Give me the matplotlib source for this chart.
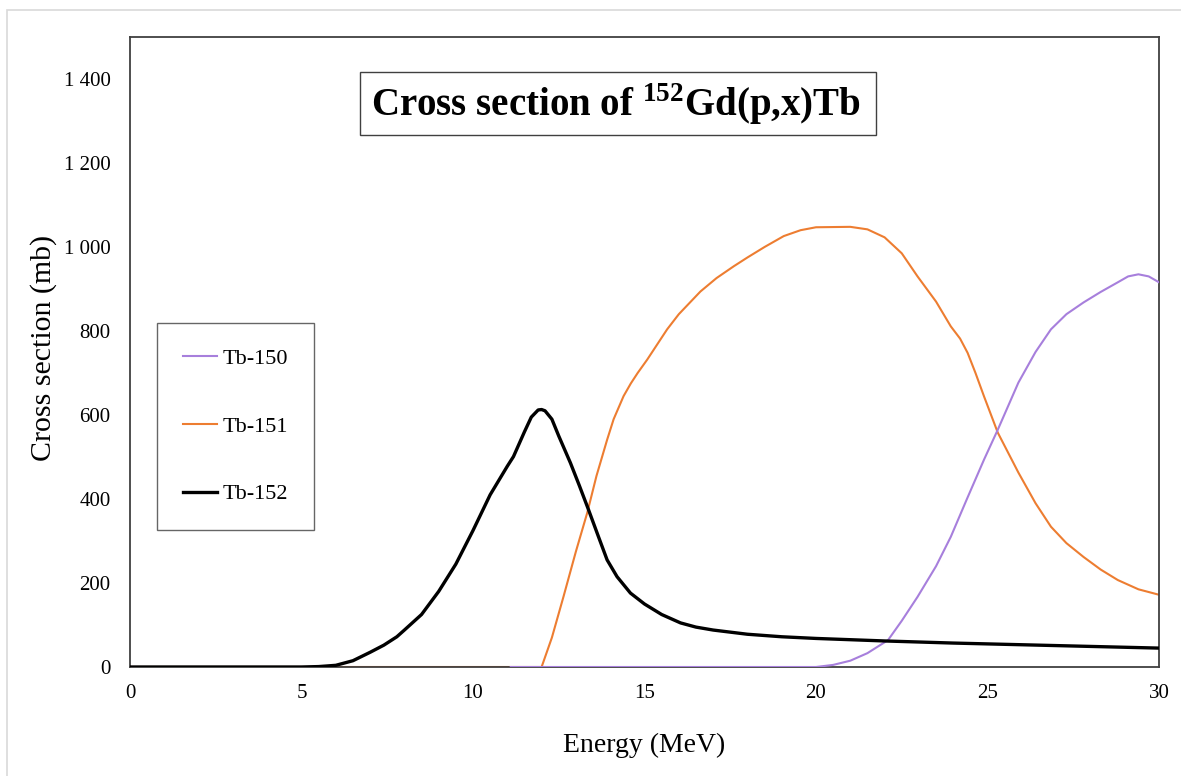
import matplotlib
matplotlib.use('Agg')
import matplotlib.pyplot as plt
from matplotlib.ticker import FuncFormatter, MultipleLocator
from matplotlib.patches import Rectangle

plt.rcParams['font.family'] = ['Liberation Serif', 'DejaVu Serif']
plt.rcParams['mathtext.fontset'] = 'custom'
plt.rcParams['mathtext.rm'] = 'Liberation Serif:bold'
plt.rcParams['mathtext.bf'] = 'Liberation Serif:bold'

# Tb-150 (purple)
e_150 = [11.1, 20.0, 20.5, 21.0, 21.5, 22.1, 22.5, 22.96, 23.5, 23.93, 24.4, 24.9,
         25.3, 25.9, 26.4, 26.85, 27.3, 27.8, 28.3, 28.8, 29.1, 29.4, 29.7, 30.0]
xs_150 = [0, 0, 5, 15, 33, 64, 110, 167, 240, 310, 400, 494,
          565, 677, 750, 804, 840, 868, 893, 916, 930, 935, 930, 916]

# Tb-151 (orange)
e_151 = [0.0, 12.0, 12.3, 12.64, 13.0, 13.33, 13.6, 13.91, 14.1, 14.39, 14.6, 14.8,
         15.08, 15.66, 16.0, 16.63, 17.1, 17.6, 18.0, 18.5, 19.06, 19.55, 20.0, 21.0,
         21.5, 22.0, 22.5, 22.96, 23.5, 23.93, 24.2, 24.42, 24.65, 24.9, 25.3, 25.9,
         26.4, 26.85, 27.3, 27.8, 28.3, 28.8, 29.4, 30.0]
xs_151 = [0, 0, 70, 168, 275, 367, 455, 541, 590, 645, 675, 700,
          732, 804, 840, 894, 926, 954, 975, 1000, 1026, 1040, 1047, 1048,
          1042, 1023, 985, 930, 870, 811, 782, 748, 700, 644, 558, 463,
          390, 334, 295, 262, 232, 207, 185, 172]

# Tb-152 (black)
e_152 = [0, 5.0, 5.5, 6.0, 6.5, 7.0, 7.4, 7.78, 8.0, 8.5, 9.0, 9.5, 10.0, 10.5,
         11.0, 11.18, 11.5, 11.7, 11.9, 12.0, 12.1, 12.3, 12.5, 12.84, 13.1, 13.37,
         13.65, 13.91, 14.2, 14.59, 15.0, 15.5, 16.05, 16.5, 17.0, 18.0, 19.0, 20.0,
         22.0, 24.0, 26.0, 28.0, 30.0]
xs_152 = [0, 0, 1, 4, 15, 35, 52, 72, 88, 125, 180, 245, 325, 410,
          478, 501, 560, 595, 612, 613, 610, 590, 550, 486, 432, 374,
          312, 255, 215, 176, 150, 125, 105, 95, 88, 78, 72, 68,
          62, 57, 53, 49, 45]

fig = plt.figure(figsize=(11.81, 7.76), dpi=100)
fig.patches.append(Rectangle((7 / 1181, -0.01), 1.1, 1 - 10 / 776 + 0.01,
                             transform=fig.transFigure, fill=False,
                             edgecolor='#d9d9d9', linewidth=1.2))
ax = fig.add_axes([130 / 1181, 1 - 667 / 776, 1029 / 1181, 630 / 776])

ax.plot(e_150, xs_150, color='#a77fdc', lw=1.5, label='Tb-150', zorder=3)
ax.plot(e_151, xs_151, color='#ed7d31', lw=1.5, label='Tb-151', zorder=2)
ax.plot(e_152, xs_152, color='black', lw=2.4, label='Tb-152', zorder=4)

ax.set_xlim(0, 30)
ax.set_ylim(0, 1500)
ax.xaxis.set_major_locator(MultipleLocator(5))
ax.yaxis.set_major_locator(MultipleLocator(200))
ax.yaxis.set_major_formatter(FuncFormatter(lambda v, p: f"{v:,.0f}".replace(',', ' ') if v <= 1400 else ''))
ax.tick_params(axis='both', length=0, labelsize=15)
ax.tick_params(axis='y', pad=14)
ax.tick_params(axis='x', pad=12)
for s in ax.spines.values():
    s.set_color('#404040')
    s.set_linewidth(1.3)

ax.set_xlabel('Energy (MeV)', fontsize=20, labelpad=22)
ax.set_ylabel('Cross section (mb)', fontsize=21.5, labelpad=5)
ax.yaxis.label.set_y(0.507)

# title box
ax.add_patch(Rectangle((0.2235, 0.844), 0.5015, 0.100, transform=ax.transAxes,
                       facecolor='white', edgecolor='#404040', lw=1, zorder=5))
ax.text(0.472, 0.893, r'Cross section of $^{152}$Gd(p,x)Tb', transform=ax.transAxes,
        ha='center', va='center', fontsize=28, fontweight='bold', zorder=6)

leg = ax.legend(loc='upper left', bbox_to_anchor=(0.0263, 0.546), borderaxespad=0,
                fontsize=16, frameon=True, fancybox=False, handlelength=1.55,
                handletextpad=0.25, labelspacing=2.12, borderpad=1.15)
leg.get_frame().set_edgecolor('#404040')
leg.get_frame().set_linewidth(1)

fig.savefig('out.png', dpi=100)
